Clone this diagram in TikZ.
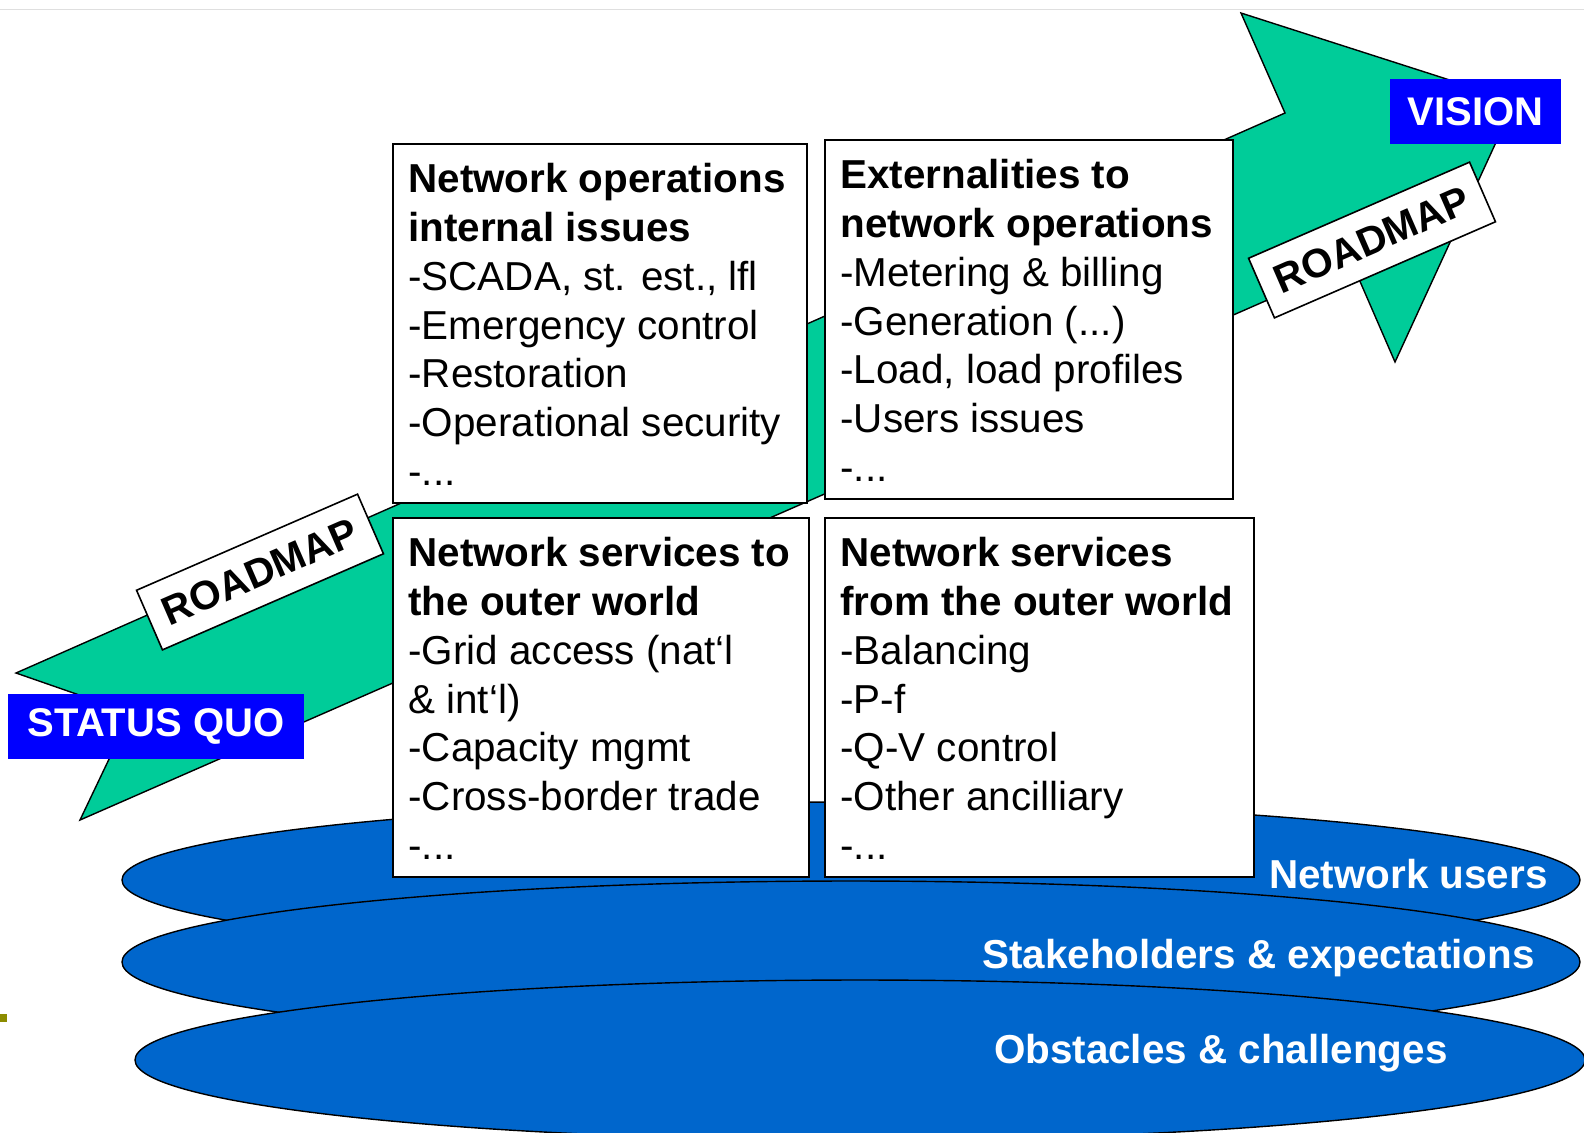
\documentclass[tikz,border=0pt]{standalone}
\usepackage{fontspec}
\setmainfont{Liberation Sans}
\usepackage{tikz}
\usetikzlibrary{shapes.geometric,positioning}
\definecolor{roadgreen}{RGB}{0,204,153}
\definecolor{goalblue}{RGB}{0,0,255}
\definecolor{layerblue}{RGB}{0,102,204}
\definecolor{tickolive}{RGB}{140,140,0}
\tikzstyle{road} = [draw, fill=roadgreen, line width=0.7pt]
\tikzstyle{issue} = [rectangle, draw, fill=white, line width=0.9pt, anchor=north west, inner sep=0pt,
 minimum height=179.5pt]
\tikzstyle{issuetext} = [anchor=north west, align=left, inner sep=0pt, font=\fontsize{20.2}{24.4}\selectfont]
\tikzstyle{goal} = [rectangle, fill=goalblue, text=white, inner sep=0pt, minimum height=32.5pt,
 font=\bfseries\fontsize{20}{24}\selectfont]
\tikzstyle{roadmap} = [rectangle, draw, fill=white, line width=0.8pt, inner sep=0pt, rotate=23.5,
 minimum width=120.5pt, minimum height=32.5pt, font=\bfseries\fontsize{20.2}{24}\selectfont]
\tikzstyle{layer} = [ellipse, draw, fill=layerblue, line width=0.7pt, inner sep=0pt]
\tikzstyle{layertext} = [anchor=base east, inner sep=0pt, text=white, font=\bfseries\fontsize{20.2}{24}\selectfont]

\begin{document}
\begin{tikzpicture}[x=0.5pt, y=-0.5pt]
        \clip (0,0) rectangle (1584,1132);
        \draw[gray!25] (0,9) -- (1584,9);
        \fill[tickolive] (0,1014) rectangle (7,1022);

        % the big arrow, behind everything else
        \path[road] (16,673) -- (1285,113) -- (1241,13) -- (1515,101) -- (1395,362)
             -- (1352,263) -- (80,820) -- (131,713) -- cycle;

        \node[layer, minimum width=729pt, minimum height=78pt] (users) at (851,880) {};
        \node[layertext] (userstxt) at (1548,888) {Network users};
        \node[layer, minimum width=729pt, minimum height=81pt] (stake) at (851,962) {};
        \node[layertext] (staketxt) at (1535,968) {Stakeholders \& expectations};
        \node[layer, minimum width=725pt, minimum height=80pt] (obst) at (860,1060) {};
        \node[layertext] (obsttxt) at (1448,1063) {Obstacles \& challenges};

        \node[issue, minimum width=207pt]   (tl) at (392,143) {};
        \node[issue, minimum width=204pt]   (tr) at (824,139) {};
        \node[issue, minimum width=208pt]   (bl) at (392,517) {};
        \node[issue, minimum width=214.5pt] (br) at (824,517) {};

        \node[issuetext, below right=10pt and 8pt of tl.north west] (tltxt)
             {\textbf{Network operations}\\\textbf{internal issues}\\-SCADA, st. est., lfl\\-Emergency control\\-Restoration\\-Operational security\\-...};
        \node[issuetext, below right=10pt and 8pt of tr.north west] (trtxt)
             {\textbf{Externalities to}\\\textbf{network operations}\\-Metering \& billing\\-Generation (...)\\-Load, load profiles\\-Users issues\\-...};
        \node[issuetext, below right=10pt and 8pt of bl.north west] (bltxt)
             {\textbf{Network services to}\\\textbf{the outer world}\\-Grid access (nat‘l\\\& int‘l)\\-Capacity mgmt\\-Cross-border trade\\-...};
        \node[issuetext, below right=10pt and 8pt of br.north west] (brtxt)
             {\textbf{Network services}\\\textbf{from the outer world}\\-Balancing\\-P-f\\-Q-V control\\-Other ancilliary\\-...};

        \node[roadmap] (road1) at (260,572) {ROADMAP};
        \node[roadmap] (road2) at (1372,240) {ROADMAP};

        \node[goal, minimum width=148pt]  (status) at (156,726) {STATUS QUO};
        \node[goal, minimum width=85.5pt] (vision) at (1475.5,111.5) {VISION};
\end{tikzpicture}
\end{document}
